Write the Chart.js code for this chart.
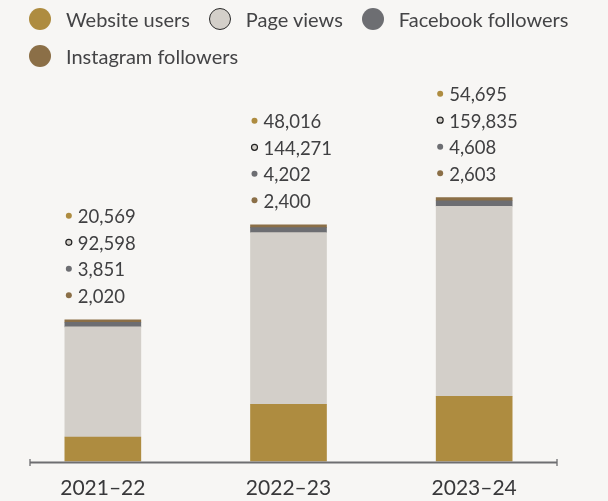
<!DOCTYPE html>
<html>
<head>
<meta charset="utf-8">
<script src="https://cdn.jsdelivr.net/npm/chart.js@4/dist/chart.umd.min.js"></script>
<style>
  body { margin:0; background:#f7f6f4; }
  #wrap { position:relative; width:608px; height:501px; }
  #legend { position:absolute; left:29px; top:0px; width:570px; display:flex; flex-wrap:wrap;
            font-family:Lato, sans-serif; font-size:20px; color:#444446; }
  .item { display:flex; align-items:center; height:37px; margin-right:19px; }
  .dot { width:22px; height:22px; border-radius:50%; margin-right:15px; box-sizing:border-box; }
</style>
</head>
<body>
<div id="wrap">
  <div id="legend"></div>
  <canvas id="chart"></canvas>
</div>
<script>
const years = ["2021–22", "2022–23", "2023–24"];
const websiteUsers = [20569, 48016, 54695];
const pageViews = [92598, 144271, 159835];
const facebookFollowers = [3851, 4202, 4608];
const instagramFollowers = [2020, 2400, 2603];

const seriesNames = ["Website users", "Page views", "Facebook followers", "Instagram followers"];
const seriesColors = ["#ae8c40", "#d3cfc9", "#6d6e72", "#8b6f47"];
const seriesData = [websiteUsers, pageViews, facebookFollowers, instagramFollowers];

// html legend, page views gets a dark ring
let lg = "";
seriesNames.forEach((n,i)=>{
  let ring = i==1 ? "border:1.5px solid #2a2a2a;" : "";
  lg += `<div class="item"><span class="dot" style="background:${seriesColors[i]};${ring}"></span>${n}</div>`;
});
document.getElementById("legend").innerHTML = lg;

// value labels stacked above each bar
const valueLabels = {
  id:"valueLabels",
  afterDatasetsDraw(chart) {
    let ctx = chart.ctx, top = chart.getDatasetMeta(seriesData.length-1).data;
    ctx.save();
    ctx.font = "18.5px Lato, sans-serif";
    ctx.textBaseline = "middle";
    top.forEach((bar,i)=>{
      let left = bar.x - bar.width/2;
      for(let s=0;s<seriesData.length;s++) {
        let y = bar.y - 23 - (seriesData.length-1-s)*26.5;
        ctx.beginPath();
        ctx.arc(left+4, y-1.5, 3, 0, Math.PI*2);
        ctx.fillStyle = seriesColors[s]; ctx.fill();
        if(s==1){ ctx.lineWidth=1.2; ctx.strokeStyle="#222"; ctx.stroke(); }
        ctx.fillStyle = "#404042";
        ctx.fillText(seriesData[s][i].toLocaleString("en-US"), left+13, y);
      }
    });
    ctx.restore();
  }
};

// baseline with small end ticks
const axisLine = {
  id:"axisLine",
  afterDatasetsDraw(chart) {
    let ctx = chart.ctx, a = chart.chartArea, y = a.bottom + 1;
    let x0 = a.left + 20, x1 = a.right - 10;
    ctx.save();
    ctx.strokeStyle = "#6e6e71";
    ctx.lineWidth = 2;
    ctx.beginPath(); ctx.moveTo(x0,y); ctx.lineTo(x1,y); ctx.stroke();
    ctx.lineWidth = 1.3;
    ctx.beginPath(); ctx.moveTo(x0,y-3.5); ctx.lineTo(x0,y+3.5); ctx.moveTo(x1,y-3.5); ctx.lineTo(x1,y+3.5); ctx.stroke();
    ctx.restore();
  }
};

new Chart(document.getElementById("chart"), {
  type:"bar",
  data:{
    labels:years,
    datasets:seriesNames.map((n,i)=>({label:n, data:seriesData[i], backgroundColor:seriesColors[i], borderWidth:0, barThickness:76}))
  },
  options:{
    responsive:true, maintainAspectRatio:false, animation:false,
    layout:{padding:{left:10, right:41, top:104.5, bottom:0}},
    plugins:{legend:{display:false}, tooltip:{enabled:false}},
    scales:{
      x:{stacked:true, grid:{display:false, drawTicks:false}, border:{display:false},
         ticks:{font:{family:"Lato", size:21}, color:"#38383a", padding:14},
         afterFit(s){ s.height = 39.5; }},
      y:{stacked:true, display:false, min:0, max:300000}
    }
  },
  plugins:[valueLabels, axisLine]
});
</script>
</body>
</html>
